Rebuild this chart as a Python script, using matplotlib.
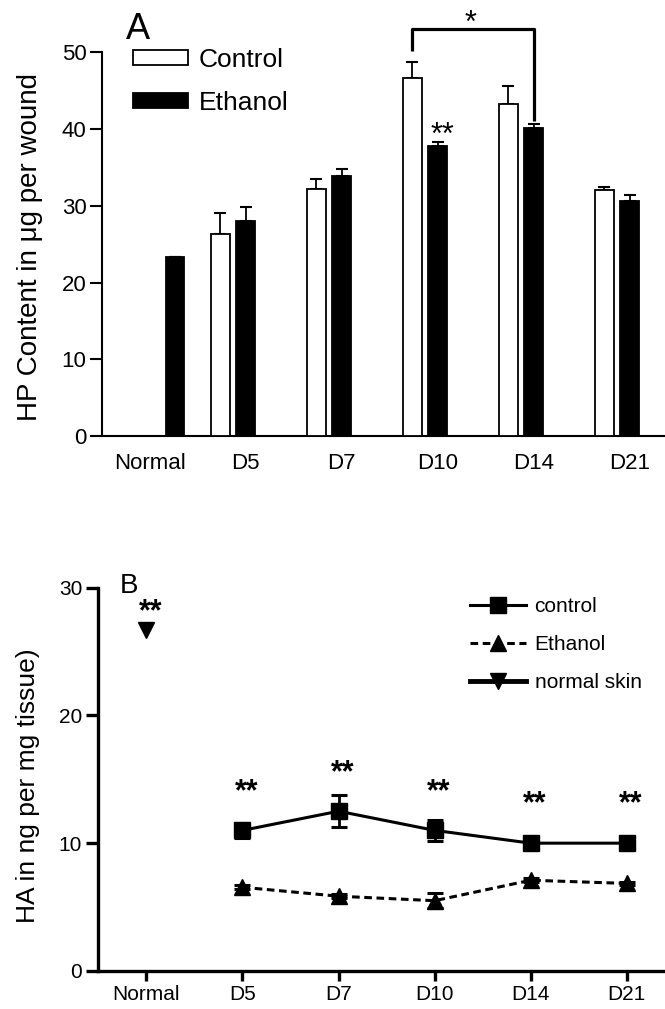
import numpy as np
import matplotlib
matplotlib.use('Agg')
import matplotlib.pyplot as plt
from matplotlib.patches import Patch
from matplotlib.lines import Line2D

plt.rcParams['font.family'] = ['Liberation Sans', 'DejaVu Sans']

# ---------------- data ----------------
days = ['Normal', 'D5', 'D7', 'D10', 'D14', 'D21']

# Panel A: HP content (ug per wound); Normal has no control bar
hp_control = [np.nan, 26.3, 32.2, 46.6, 43.2, 32.0]
hp_control_err = [0.0, 2.7, 1.35, 2.2, 2.35, 0.5]
hp_ethanol = [23.3, 28.0, 33.9, 37.8, 40.2, 30.6]
hp_ethanol_err = [0.08, 1.9, 0.9, 0.5, 0.5, 0.8]

# Panel B: HA (ng per mg tissue), wound days D5..D21
ha_days = ['D5', 'D7', 'D10', 'D14', 'D21']
ha_control = [11.0, 12.5, 11.0, 10.0, 10.0]
ha_control_err = [0.6, 1.25, 0.8, 0.15, 0.15]
ha_ethanol = [6.55, 5.85, 5.5, 7.1, 6.85]
ha_ethanol_err = [0.15, 0.15, 0.6, 0.15, 0.15]
ha_normal = 26.65
ha_star_heights = [28.8, 14.7, 16.2, 14.7, 13.75, 13.75]

W, H = 665, 1009
fig = plt.figure(figsize=(W / 100, H / 100), dpi=100)


def fx(px):
    return px / W


def fy(py):
    return 1 - py / H


def star(ax, x, yc, s, fs, bold=False):
    ax.annotate(s, (x, yc), xytext=(0, -0.57 * fs), textcoords='offset points',
                ha='center', va='baseline', fontsize=fs,
                fontweight='bold' if bold else 'normal', annotation_clip=False)


# ---------------- Panel A ----------------
axA = fig.add_axes([fx(101.7), fy(436), fx(665 - 101.7), (436 - 52.3) / H])
x = np.arange(len(days), dtype=float)
off = 0.131
bw = 0.195
ctrl_x = x - off
eth_x = x + off
eth_x[0] = 0.396

axA.bar(ctrl_x[1:], hp_control[1:], bw, facecolor='white', edgecolor='black', lw=1.3, zorder=3)
axA.bar(eth_x, hp_ethanol, bw, facecolor='black', edgecolor='black', lw=1.3, zorder=3)
n = len(days)
axA.errorbar(ctrl_x[1:], hp_control[1:], yerr=[np.zeros(n - 1), hp_control_err[1:]], fmt='none',
             ecolor='black', elinewidth=1.3, capsize=4, capthick=1.5, zorder=2)
axA.errorbar(eth_x, hp_ethanol, yerr=[np.zeros(n), hp_ethanol_err], fmt='none',
             ecolor='black', elinewidth=1.3, capsize=4, capthick=1.5, zorder=2)

axA.set_xlim(-0.368, 5.5)
axA.set_ylim(0, 50)
axA.set_yticks(np.arange(0, 51, 10))
axA.set_xticks(x + off)
axA.set_xticklabels(days)
for s in ['top', 'right']:
    axA.spines[s].set_visible(False)
for s in ['left', 'bottom']:
    axA.spines[s].set_linewidth(1.5)
axA.tick_params(axis='y', length=9, width=1.5, labelsize=16, pad=2)
axA.tick_params(axis='x', length=0, labelsize=16, pad=12)

# significance bracket D10 control vs D14 ethanol
i10, i14 = days.index('D10'), days.index('D14')
left_x, right_x = ctrl_x[i10], eth_x[i14]
top_y = 53.0
axA.plot([left_x, left_x, right_x, right_x],
         [hp_control[i10] + hp_control_err[i10] + 1.4, top_y, top_y,
          hp_ethanol[i14] + hp_ethanol_err[i14] + 0.4],
         color='black', lw=2.3, clip_on=False, solid_capstyle='butt')
star(axA, (left_x + right_x) / 2 - 0.03, 54.9, '*', 22)
star(axA, eth_x[i10] + 0.05, hp_ethanol[i10] + hp_ethanol_err[i10] + 2.0, '**', 22)

fig.text(fx(138), fy(39), 'A', fontsize=26, ha='center', va='baseline')
fig.text(fx(30), fy(247), 'HP Content in \u03bcg per wound', fontsize=20,
         rotation=90, ha='center', va='center')

axA.legend(handles=[Patch(facecolor='white', edgecolor='black', lw=1.3),
                    Patch(facecolor='black', edgecolor='black', lw=1.3)],
           labels=['Control', 'Ethanol'], loc='upper left',
           bbox_to_anchor=(fx(133), fy(48)), bbox_transform=fig.transFigure,
           frameon=False, fontsize=19, handlelength=2.1, handleheight=0.5,
           handletextpad=0.4, labelspacing=0.72, borderpad=0, borderaxespad=0)

# ---------------- Panel B ----------------
axB = fig.add_axes([fx(97.5), fy(971), fx(665 - 97.5), (971 - 587.5) / H])
xb = np.arange(len(days), dtype=float)
xd = xb[1:]

axB.errorbar(xd, ha_control, yerr=ha_control_err, color='black', lw=2.2, marker='s', ms=12,
             capsize=6, capthick=2.2, elinewidth=2)
axB.errorbar(xd, ha_ethanol, yerr=ha_ethanol_err, color='black', lw=2.2, marker='^', ms=12,
             linestyle=(0, (2.5, 1.5)), capsize=6, capthick=2.2, elinewidth=2)
axB.plot([xb[0]], [ha_normal], marker='v', ms=12, color='black', linestyle='none')
for xi, h in zip(xb, ha_star_heights):
    star(axB, xi + 0.04, h, '**', 22, bold=True)

axB.set_xlim(-0.509, 5.397)
axB.set_ylim(0, 30)
axB.set_yticks([0, 10, 20, 30])
axB.set_xticks(xb)
axB.set_xticklabels(days)
for s in ['top', 'right']:
    axB.spines[s].set_visible(False)
for s in ['left', 'bottom']:
    axB.spines[s].set_linewidth(2.4)
axB.tick_params(axis='y', length=9, width=2.4, labelsize=15, pad=2)
axB.tick_params(axis='x', length=7, width=2.4, labelsize=15, pad=3)

fig.text(fx(129), fy(593), 'B', fontsize=20, ha='center', va='baseline')
fig.text(fx(28), fy(786), 'HA in ng per mg tissue)', fontsize=19,
         rotation=90, ha='center', va='center')

axB.legend(handles=[Line2D([], [], color='black', lw=2.2, marker='s', ms=12),
                    Line2D([], [], color='black', lw=2.2, marker='^', ms=12, linestyle=(0, (2.5, 1.5))),
                    Line2D([], [], color='black', lw=3.5, marker='v', ms=12)],
           labels=['control', 'Ethanol', 'normal skin'], loc='upper left',
           bbox_to_anchor=(fx(470), fy(597)), bbox_transform=fig.transFigure,
           frameon=False, fontsize=15, handlelength=2.7, handletextpad=0.4,
           labelspacing=0.92, borderpad=0, borderaxespad=0)

fig.savefig('out.png', dpi=100)
